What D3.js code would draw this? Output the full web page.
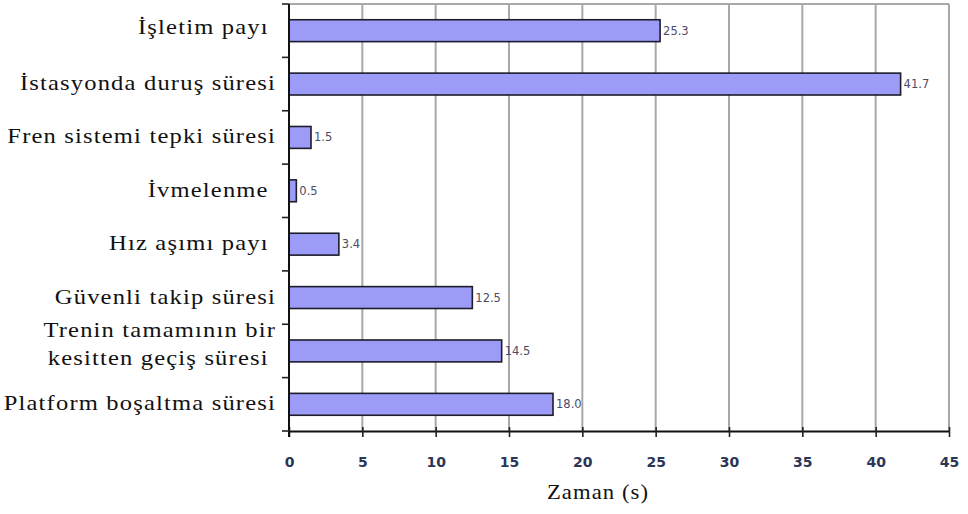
<!DOCTYPE html>
<html>
<head>
<meta charset="utf-8">
<script src="https://cdn.jsdelivr.net/npm/d3@7"></script>
<style>
  html, body { margin: 0; padding: 0; background: #fff; }
  svg { display: block; }
  .cat { font-family: "Liberation Serif", "Times New Roman", serif; font-size: 21px; letter-spacing: 1px; fill: #111; white-space: pre; }
  .val { font-family: "DejaVu Sans", sans-serif; font-size: 11.5px; fill: #4b4b66; }
  .tick text { font-family: "DejaVu Sans", sans-serif; font-size: 14px; font-weight: bold; fill: #2b3555; }
</style>
</head>
<body>
<svg id="chart" width="968" height="514"></svg>
<script>
// Time components (seconds), listed top to bottom
const categories = [
  "İşletim payı ",
  "İstasyonda duruş süresi",
  "Fren sistemi tepki süresi",
  "İvmelenme ",
  "Hız aşımı payı ",
  "Güvenli takip süresi",
  "Trenin tamamının bir\nkesitten geçiş süresi ",
  "Platform boşaltma süresi"
];
const values = [25.3, 41.7, 1.5, 0.5, 3.4, 12.5, 14.5, 18.0];
const xTicks = [0, 5, 10, 15, 20, 25, 30, 35, 40, 45];
const axisTitle = "Zaman (s)";

const svg = d3.select("#chart");
const plotLeft = 289, plotRight = 949, plotTop = 4, plotBottom = 431;

const x = d3.scaleLinear().domain([0, 45]).range([plotLeft, plotRight]);
const y = d3.scaleBand().domain(categories).range([plotTop, plotBottom]).paddingInner(0.59).paddingOuter(0.295);

// vertical gridlines
svg.append("g").selectAll("line").data(xTicks.slice(1)).join("line")
  .attr("x1", d => x(d)).attr("x2", d => x(d))
  .attr("y1", plotTop).attr("y2", plotBottom)
  .attr("stroke", "#a8a8a8").attr("stroke-width", 2);

// top border
svg.append("line").attr("x1", plotLeft).attr("x2", plotRight).attr("y1", plotTop).attr("y2", plotTop)
  .attr("stroke", "#a8a8a8").attr("stroke-width", 2);

// bars
svg.append("g").selectAll("rect").data(values).join("rect")
  .attr("x", x(0))
  .attr("y", (d, i) => y(categories[i]))
  .attr("width", d => x(d) - x(0))
  .attr("height", y.bandwidth())
  .attr("fill", "#9c9cf8")
  .attr("stroke", "#1c1c2a")
  .attr("stroke-width", 1.6);

// value labels
svg.append("g").selectAll("text").data(values).join("text")
  .attr("class", "val")
  .attr("x", d => x(d) + 3)
  .attr("y", (d, i) => y(categories[i]) + y.bandwidth() / 2 + 4)
  .text(d => d.toFixed(1));

// x axis
const xAxis = svg.append("g").attr("transform", `translate(0,${plotBottom})`)
  .call(d3.axisBottom(x).tickValues(xTicks).tickSizeInner(6).tickSizeOuter(0).tickPadding(20));
xAxis.select(".domain").attr("stroke", "#111").attr("stroke-width", 2);
xAxis.selectAll(".tick line").attr("stroke", "#222").attr("stroke-width", 1.6).attr("y1", -4);

// y axis: ticks at category boundaries
const bounds = d3.range(categories.length + 1).map(i => plotTop + i * y.step());
svg.append("line").attr("x1", plotLeft).attr("x2", plotLeft).attr("y1", plotTop).attr("y2", plotBottom + 6)
  .attr("stroke", "#111").attr("stroke-width", 2);
svg.append("g").selectAll("line").data(bounds).join("line")
  .attr("x1", plotLeft - 7).attr("x2", plotLeft)
  .attr("y1", d => d).attr("y2", d => d)
  .attr("stroke", "#222").attr("stroke-width", 1.6);

// category labels, set in a horizontally widened serif, right-aligned to the axis
const labelRight = 276;
const labelG = svg.append("g")
  .attr("transform", `translate(${labelRight},0) scale(1.17,1)`);
categories.forEach((c, i) => {
  const lines = c.split("\n");
  const cy = y(c) + y.bandwidth() / 2 + (lines.length > 1 ? -6 : (i === 0 ? -3 : 0));
  const lh = 28;
  const t = labelG.append("text").attr("class", "cat").attr("text-anchor", "end");
  lines.forEach((ln, j) => {
    t.append("tspan").attr("x", 0)
      .attr("y", cy + 6 + (j - (lines.length - 1) / 2) * lh)
      .text(ln);
  });
});

// axis title
svg.append("g").attr("transform", "translate(598,499) scale(1.08,1)")
  .append("text").attr("class", "cat").attr("text-anchor", "middle")
  .text(axisTitle);
</script>
</body>
</html>
